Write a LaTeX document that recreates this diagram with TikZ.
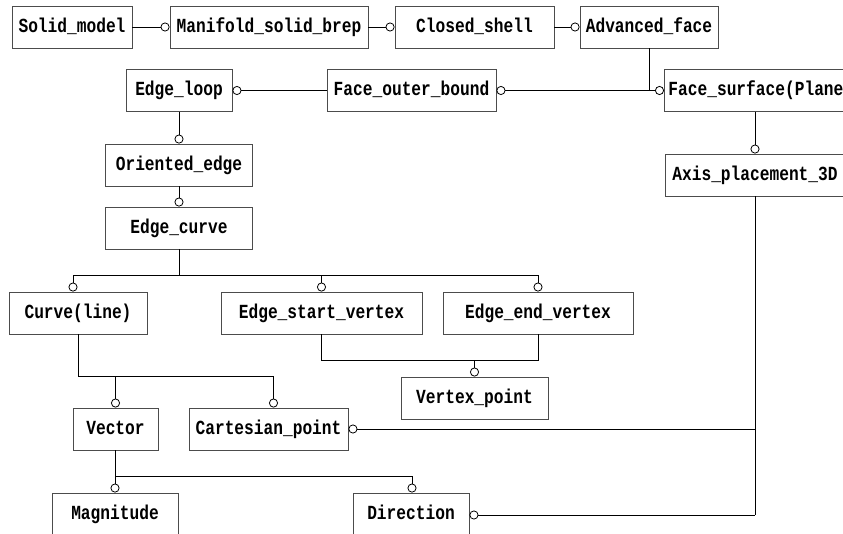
\documentclass[tikz,border=0pt]{standalone}
\usepackage{fontspec}
\usetikzlibrary{arrows.meta}
\newfontfamily\entfont[FakeStretch=0.81]{Liberation Mono Bold}
\tikzset{
        entity/.style={
          draw=black!70, line width=0.9pt,
          minimum height=42pt, inner sep=0pt,
          text height=13pt, text depth=2pt,
          font=\entfont\fontsize{20}{22}\selectfont
          },
        link/.style={line width=0.8pt},
        owns/.style={link, -{Circle[open, length=9pt, width=9pt, line width=0.8pt]}},
}

\begin{document}
\begin{tikzpicture}[x=1pt, y=-1pt]
      \useasboundingbox (0,0) rectangle (843,534);
      \clip (0,0) rectangle (843,534);
      % TOP ROW
      \node[entity, minimum width=120pt] (solid) at (72,27) {Solid\_model};
      \node[entity, minimum width=198pt] (manifold) at (269,27) {Manifold\_solid\_brep};
      \node[entity, minimum width=159pt] (shell) at (474.5,27) {Closed\_shell};
      \node[entity, minimum width=138pt] (advface) at (649,27) {Advanced\_face};

      % FACE LEVEL
      \node[entity, minimum width=106pt] (loop) at (179,90.5) {Edge\_loop};
      \node[entity, minimum width=169pt] (outer) at (411.5,90.5) {Face\_outer\_bound};
      \node[entity, anchor=west, text width=174pt, align=left, inner xsep=4pt] (surface) at (664,90.5) {Face\_surface(Plane};
      \node[entity, minimum width=180pt] (axis) at (755,175) {Axis\_placement\_3D};

      % EDGES
      \node[entity, minimum width=147pt] (oriented) at (179,165) {Oriented\_edge};
      \node[entity, minimum width=147pt] (edgecurve) at (179,228) {Edge\_curve};
      \node[entity, minimum width=138pt] (curve) at (78,313) {Curve(line)};
      \node[entity, minimum width=201pt] (startv) at (321.5,313) {Edge\_start\_vertex};
      \node[entity, minimum width=190pt] (endv) at (538,313) {Edge\_end\_vertex};
      \node[entity, minimum width=147pt] (vpoint) at (474.5,398) {Vertex\_point};

      % POINTS AND VECTORS
      \node[entity, minimum width=85pt] (vector) at (115.5,429) {Vector};
      \node[entity, minimum width=159pt] (cart) at (268.5,429) {Cartesian\_point};
      \node[entity, minimum width=126pt] (magnitude) at (115,514) {Magnitude};
      \node[entity, minimum width=116pt] (direction) at (411,514) {Direction};

      % WIRING
      % top row chain
      \draw[owns] (solid) -- (manifold);
      \draw[owns] (manifold) -- (shell);
      \draw[owns] (shell) -- (advface);
      % advanced face to bound and surface
      \draw[link, line width=1pt] (advface.south) -- (advface.south |- outer) coordinate (afsplit);
      \draw[owns] (afsplit) -- (outer.east);
      \draw[owns] (afsplit) -- (surface.west);
      \draw[owns] (outer) -- (loop);
      \draw[owns] (surface.south -| axis) -- (axis.north);
      % loop down to edge curve
      \draw[owns] (loop) -- (oriented);
      \draw[owns] (oriented) -- (edgecurve);
      % edge curve branches
      \draw[link] (edgecurve.south) -- ++(0,26) coordinate (ecbus);
      \draw[link] ([xshift=-5pt]curve.north |- ecbus) -- (endv.north |- ecbus);
      \draw[owns] ([xshift=-5pt]curve.north |- ecbus) -- ([xshift=-5pt]curve.north);
      \draw[owns] (startv.north |- ecbus) -- (startv.north);
      \draw[owns] (endv.north |- ecbus) -- (endv.north);
      % vertices
      \draw[link] (startv.south) -- ++(0,26) coordinate (vbus) -| (endv.south);
      \draw[owns] (vpoint.north |- vbus) -- (vpoint.north);
      % curve to vector and point
      \draw[link] (curve.south) -- ++(0,42) coordinate (cbus) -- ([xshift=5pt]cart.north |- cbus);
      \draw[owns] (vector.north |- cbus) -- (vector.north);
      \draw[owns] ([xshift=5pt]cart.north |- cbus) -- ([xshift=5pt]cart.north);
      % vector to magnitude and direction
      \draw[link] (vector.south) -- ++(0,26) coordinate (vecbus) -- ([xshift=1pt]direction.north |- vecbus);
      \draw[owns] (magnitude.north |- vecbus) -- (magnitude.north);
      \draw[owns] ([xshift=1pt]direction.north |- vecbus) -- ([xshift=1pt]direction.north);
      % axis placement back to point and direction
      \draw[link] (axis.south) -- ([yshift=-1pt]axis.south |- direction);
      \draw[owns] (axis.south |- cart) -- (cart.east);
      \draw[owns] ([yshift=-1pt]axis.south |- direction) -- ([yshift=-1pt]direction.east);
\end{tikzpicture}
\end{document}
